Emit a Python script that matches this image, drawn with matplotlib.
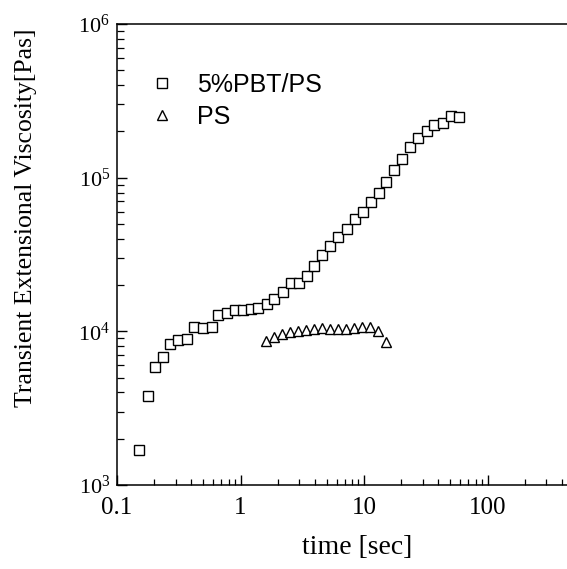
import matplotlib
matplotlib.use("Agg")
import matplotlib.pyplot as plt
from matplotlib.ticker import LogLocator, NullFormatter, FixedLocator, FixedFormatter

# data
t_blend = [0.151, 0.177, 0.203, 0.237, 0.269, 0.313, 0.366, 0.422, 0.494, 0.585,
           0.661, 0.773, 0.902, 1.04, 1.21, 1.39, 1.63, 1.88, 2.20, 2.56,
           2.98, 3.44, 3.96, 4.60, 5.31, 6.20, 7.24, 8.46, 9.82, 11.4,
           13.2, 15.2, 17.6, 20.4, 23.6, 27.5, 32.2, 37.1, 43.4, 50.3, 58.7]
eta_blend = [1690, 3820, 5890, 6840, 8280, 8790, 8960, 10740, 10570, 10740,
             12790, 13120, 13780, 13780, 14000, 14270, 15070, 16180, 17950, 20540,
             20730, 23030, 26740, 31180, 35940, 41310, 46370, 53600, 60100, 69000,
             79800, 94400, 112200, 132400, 159200, 180400, 201300, 220300, 226000, 251900, 249300]

t_ps = [1.60, 1.86, 2.16, 2.52, 2.92, 3.39, 3.94, 4.57, 5.31, 6.16,
        7.15, 8.30, 9.64, 11.2, 13.0, 15.1]
eta_ps = [8600, 9200, 9600, 9900, 10000, 10200, 10400, 10500, 10400, 10400,
          10400, 10500, 10600, 10600, 10000, 8500]

x_ticks = [0.1, 1, 10, 100]
x_tick_labels = ["0.1", "1", "10", "100"]
y_ticks = [1e3, 1e4, 1e5, 1e6]
y_tick_labels = [r"$\mathregular{10^{3}}$", r"$\mathregular{10^{4}}$",
                 r"$\mathregular{10^{5}}$", r"$\mathregular{10^{6}}$"]

serif = "Liberation Serif"
sans = "Liberation Sans"
plt.rcParams["mathtext.fontset"] = "custom"
plt.rcParams["mathtext.rm"] = serif

W, H = 567, 569
fig = plt.figure(figsize=(W / 100, H / 100), dpi=100)
left, right, top, bottom = 117, 567, 24, 485
ax = fig.add_axes([left / W, 1 - bottom / H, (right - left) / W, (bottom - top) / H])

ax.set_xscale("log")
ax.set_yscale("log")
ax.set_xlim(0.1, 440)
ax.set_ylim(1e3, 1e6)

ms = 6.8
ax.plot(t_blend, eta_blend, ls="none", marker="s", ms=ms, mfc="white",
        mec="black", mew=1.0, label="5%PBT/PS")
ax.plot(t_ps, eta_ps, ls="none", marker="^", ms=ms, mfc="white",
        mec="black", mew=1.0, label="PS")

for s in ["left", "bottom", "top"]:
    ax.spines[s].set_linewidth(1.1)
ax.spines["right"].set_visible(False)

ax.xaxis.set_major_locator(FixedLocator(x_ticks))
ax.xaxis.set_major_formatter(FixedFormatter(x_tick_labels))
ax.xaxis.set_minor_locator(LogLocator(base=10, subs=range(2, 10)))
ax.xaxis.set_minor_formatter(NullFormatter())
ax.yaxis.set_major_locator(FixedLocator(y_ticks))
ax.yaxis.set_major_formatter(FixedFormatter(y_tick_labels))
ax.yaxis.set_minor_locator(LogLocator(base=10, subs=range(2, 10)))
ax.yaxis.set_minor_formatter(NullFormatter())

ax.tick_params(which="both", direction="in", top=False, right=False)
ax.tick_params(axis="x", which="major", length=7, width=1, pad=9)
ax.tick_params(axis="x", which="minor", length=4.5, width=0.9)
ax.tick_params(axis="y", which="major", length=7, width=1, pad=5)
ax.tick_params(axis="y", which="minor", length=5, width=0.9)
for lab in ax.get_xticklabels():
    lab.set_fontfamily(serif)
    lab.set_fontsize(18)
for lab in ax.get_yticklabels():
    lab.set_fontfamily(serif)
    lab.set_fontsize(16)

fig.text(357 / W, 1 - 548 / H, "time [sec]", fontfamily=serif, fontsize=20,
         ha="center", va="center")
fig.text(26 / W, 1 - 218 / H, "Transient Extensional Viscosity[Pas]",
         fontfamily=serif, fontsize=18.5, rotation=90, ha="center", va="center")

leg = ax.legend(loc="upper left", bbox_to_anchor=(0.05, 0.915), frameon=False,
                prop={"family": sans, "size": 18}, handletextpad=0.9,
                labelspacing=0.3, handlelength=1.0, borderaxespad=0)

fig.savefig("out.png", dpi=100)
